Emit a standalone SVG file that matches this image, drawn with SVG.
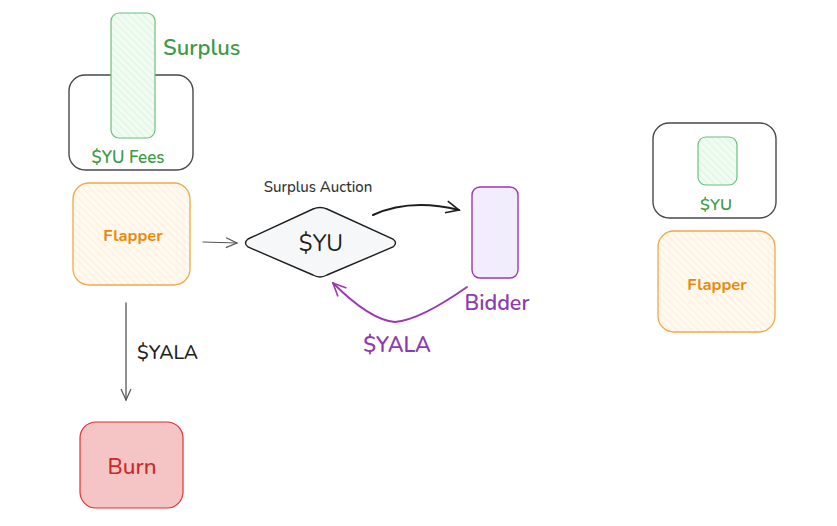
<svg xmlns="http://www.w3.org/2000/svg" width="837" height="526" viewBox="0 0 837 526">
<style>
text{font-family:"Nunito","Noto Sans","Open Sans",sans-serif;}
.dark{fill:none;stroke:#494949;stroke-width:1.4;}
.green{fill:url(#hGreen);stroke:#6cc07a;stroke-width:1.2;}
.orange{fill:url(#hOrange);stroke:#f0a94a;stroke-width:1.3;}
.gt{fill:#3d9a47;font-weight:600;}
.ot{fill:#e8890c;font-weight:700;}
.conn{fill:none;stroke-linecap:round;stroke-linejoin:round;}
</style>
<defs>
<pattern id="hGreen" patternUnits="userSpaceOnUse" width="5" height="5" patternTransform="rotate(-45)">
<rect width="5" height="5" fill="#f0fbf1"/>
<line x1="0" y1="0" x2="0" y2="5" stroke="#cdeed2" stroke-width="1"/>
</pattern>
<pattern id="hOrange" patternUnits="userSpaceOnUse" width="5" height="5" patternTransform="rotate(-45)">
<rect width="5" height="5" fill="#fff9f0"/>
<line x1="0" y1="0" x2="0" y2="5" stroke="#fde4c2" stroke-width="1"/>
</pattern>
<marker id="ahGray" markerWidth="14" markerHeight="12" refX="12" refY="6" orient="auto" markerUnits="userSpaceOnUse">
<path d="M1,1 L12,6 L1,11" fill="none" stroke="#555" stroke-width="1.2"/>
</marker>
<marker id="ahBlack" markerWidth="16" markerHeight="14" refX="14" refY="7" orient="auto" markerUnits="userSpaceOnUse">
<path d="M1,1 L14,7 L1,13" fill="none" stroke="#1e1e1e" stroke-width="1.6"/>
</marker>
<marker id="ahPurple" markerWidth="16" markerHeight="14" refX="14" refY="7" orient="auto" markerUnits="userSpaceOnUse">
<path d="M1,1 L14,7 L1,13" fill="none" stroke="#9c36b5" stroke-width="1.6"/>
</marker>
</defs>

<g id="yu-fees">
<rect class="dark" x="69" y="75" width="124" height="95" rx="16"/>
<text class="gt" x="128" y="163" font-size="17" text-anchor="middle">$YU Fees</text>
</g>
<g id="surplus">
<rect class="green" x="111" y="13" width="44" height="125" rx="8"/>
<text class="gt" x="163" y="55" font-size="22">Surplus</text>
</g>
<g id="flapper">
<rect class="orange" x="73" y="183" width="117" height="102" rx="16"/>
<text class="ot" x="133" y="241" font-size="16.5" text-anchor="middle">Flapper</text>
</g>
<g id="auction">
<text x="318" y="192" font-size="15" fill="#333" text-anchor="middle" font-weight="500">Surplus Auction</text>
<path d="M248,239 L313,209 Q320,206 327,209 L393,239 Q398,243 393,247 L327,275 Q320,279 313,275 L248,247 Q243,243 248,239 Z" fill="#f6f7f9" stroke="#1e1e1e" stroke-width="1.4"/>
<text x="321" y="251" font-size="23" fill="#1e1e1e" text-anchor="middle">$YU</text>
</g>
<g id="bidder">
<rect x="472" y="187" width="46" height="91" rx="8" fill="#f1edfd" stroke="#9c36b5" stroke-width="1.4"/>
<text x="497" y="310" font-size="21.5" fill="#8e3bb0" text-anchor="middle" font-weight="600">Bidder</text>
</g>
<g id="burn">
<rect x="80" y="422" width="103" height="86" rx="16" fill="#f5c4c4" stroke="#e03131" stroke-width="1.2"/>
<text x="132" y="474" font-size="22.5" fill="#c92a2a" text-anchor="middle" font-weight="500">Burn</text>
</g>
<g id="yu-right">
<rect class="dark" x="653" y="123" width="123" height="95" rx="16"/>
<rect class="green" x="698" y="137" width="39" height="48" rx="8"/>
<text class="gt" x="716" y="210" font-size="16.5" text-anchor="middle">$YU</text>
</g>
<g id="flapper-right">
<rect class="orange" x="658" y="231" width="117" height="101" rx="16"/>
<text class="ot" x="717" y="290" font-size="16.5" text-anchor="middle">Flapper</text>
</g>

<g id="connectors">
<path class="conn" d="M203,242 L237,243" stroke="#555" stroke-width="1.2" marker-end="url(#ahGray)"/>
<path class="conn" d="M373,215 Q410,198 459,210" stroke="#1e1e1e" stroke-width="2" marker-end="url(#ahBlack)"/>
<path class="conn" d="M467,287 Q420,320 395,322 Q370,320 333,283" stroke="#9c36b5" stroke-width="1.8" marker-end="url(#ahPurple)"/>
<path class="conn" d="M126,303 L126,400" stroke="#555" stroke-width="1.3" marker-end="url(#ahGray)"/>
<text x="137" y="359" font-size="19.5" fill="#1e1e1e" font-weight="500">$YALA</text>
<text x="397" y="352" font-size="21.5" fill="#8e3bb0" text-anchor="middle" font-weight="600">$YALA</text>
</g>
</svg>
